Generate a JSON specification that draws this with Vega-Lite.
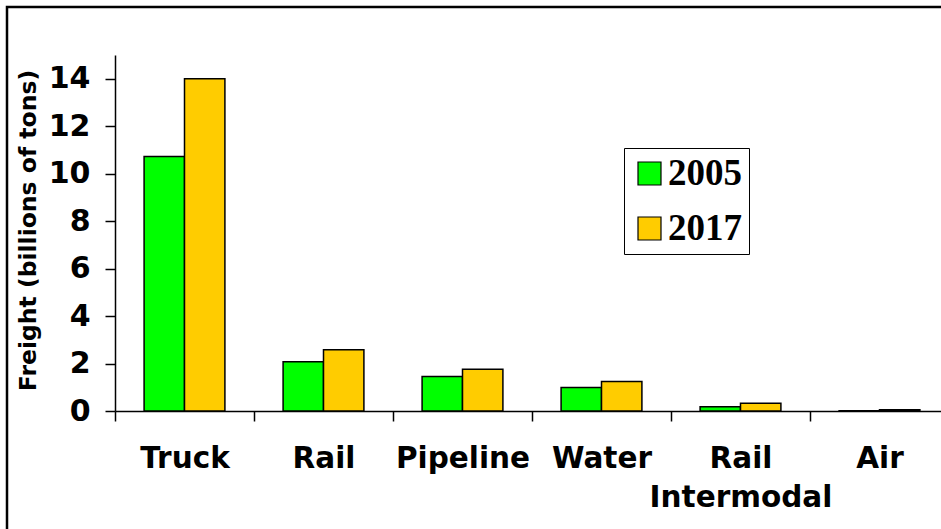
{
  "$schema": "https://vega.github.io/schema/vega-lite/v6.json",
  "width": 938,
  "height": 526,
  "autosize": {"type": "none"},
  "padding": {"left": 7, "top": 7, "right": -4, "bottom": -4},
  "background": "white",
  "config": {"view": {"stroke": "black", "strokeWidth": 2.5}},
  "data": {
    "values": [
      {"mode": "Truck", "year": "2005", "value": 10.72},
      {"mode": "Truck", "year": "2017", "value": 14.0},
      {"mode": "Rail", "year": "2005", "value": 2.07},
      {"mode": "Rail", "year": "2017", "value": 2.58},
      {"mode": "Pipeline", "year": "2005", "value": 1.45},
      {"mode": "Pipeline", "year": "2017", "value": 1.76},
      {"mode": "Water", "year": "2005", "value": 0.99},
      {"mode": "Water", "year": "2017", "value": 1.24},
      {"mode": "Rail Intermodal", "year": "2005", "value": 0.18},
      {"mode": "Rail Intermodal", "year": "2017", "value": 0.33},
      {"mode": "Air", "year": "2005", "value": 0.01},
      {"mode": "Air", "year": "2017", "value": 0.05}
    ]
  },
  "mark": {"type": "bar", "stroke": "black", "strokeWidth": 1.5},
  "encoding": {
    "x": {
      "field": "mode",
      "type": "nominal",
      "sort": ["Truck", "Rail", "Pipeline", "Water", "Rail Intermodal", "Air"],
      "scale": {"range": [108, 942], "paddingInner": 0, "paddingOuter": 0},
      "axis": {
        "title": null,
        "orient": "bottom",
        "offset": -122,
        "tickBand": "extent",
        "labelAngle": 0,
        "labelFont": "DejaVu Sans",
        "labelFontWeight": "bold",
        "labelFontSize": 29.5,
        "labelColor": "black",
        "labelPadding": 23,
        "labelLineHeight": 39,
        "labelOverlap": false,
        "labelLimit": 0,
        "labelExpr": "datum.value === 'Rail Intermodal' ? ['Rail', 'Intermodal'] : datum.value",
        "tickSize": 10,
        "tickColor": "black",
        "tickWidth": 1.5,
        "domainColor": "black",
        "domainWidth": 1.5
      }
    },
    "xOffset": {
      "field": "year",
      "type": "nominal",
      "scale": {"paddingInner": 0, "paddingOuter": 0.72}
    },
    "y": {
      "field": "value",
      "type": "quantitative",
      "scale": {"domain": [0, 15], "range": [404, 48], "nice": false},
      "axis": {
        "title": "Freight (billions of tons)",
        "offset": -108,
        "values": [0, 2, 4, 6, 8, 10, 12, 14],
        "grid": false,
        "tickSize": 10,
        "tickColor": "black",
        "tickWidth": 1.5,
        "domainColor": "black",
        "domainWidth": 1.5,
        "labelFont": "DejaVu Sans",
        "labelFontWeight": "bold",
        "labelFontSize": 30,
        "labelColor": "black",
        "labelPadding": 15,
        "titleFont": "DejaVu Sans",
        "titleFontWeight": "bold",
        "titleFontSize": 23.5,
        "titleColor": "black",
        "titleX": -80,
        "titleY": 223,
        "titleAngle": 270,
        "titleAlign": "center",
        "titleBaseline": "alphabetic"
      }
    },
    "color": {
      "field": "year",
      "type": "nominal",
      "scale": {"domain": ["2005", "2017"], "range": ["#00FF00", "#FFCC00"]},
      "legend": {
        "title": null,
        "orient": "none",
        "legendX": 617,
        "legendY": 141,
        "symbolType": "square",
        "symbolSize": 529,
        "symbolStrokeColor": "black",
        "symbolStrokeWidth": 1.2,
        "symbolOpacity": 1,
        "symbolOffset": 0,
        "labelFont": "Liberation Serif",
        "labelFontSize": 37,
        "labelFontWeight": "bold",
        "labelColor": "black",
        "labelOffset": 0,
        "padding": 7,
        "rowPadding": 17,
        "strokeColor": "black",
        "fillColor": "white"
      }
    }
  }
}
